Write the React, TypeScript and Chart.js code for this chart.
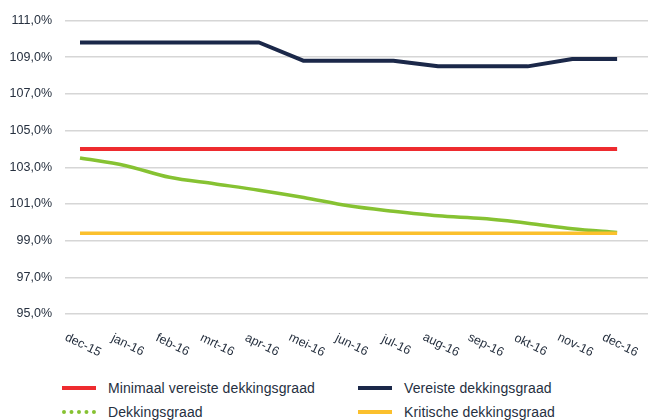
import React, { useEffect, useRef } from "react";
import { Chart, registerables } from "chart.js";

Chart.register(...registerables);

const months = ["dec-15", "jan-16", "feb-16", "mrt-16", "apr-16", "mei-16", "jun-16", "jul-16", "aug-16", "sep-16", "okt-16", "nov-16", "dec-16"];
const minimaalVereiste = [104.0, 104.0, 104.0, 104.0, 104.0, 104.0, 104.0, 104.0, 104.0, 104.0, 104.0, 104.0, 104.0];
const vereiste = [109.8, 109.8, 109.8, 109.8, 109.8, 108.8, 108.8, 108.8, 108.5, 108.5, 108.5, 108.9, 108.9];
const dekkingsgraad = [103.5, 103.1, 102.45, 102.1, 101.75, 101.35, 100.9, 100.6, 100.35, 100.2, 99.95, 99.65, 99.45];
const kritische = [99.4, 99.4, 99.4, 99.4, 99.4, 99.4, 99.4, 99.4, 99.4, 99.4, 99.4, 99.4, 99.4];
const yTicks = [95, 97, 99, 101, 103, 105, 107, 109, 111];

const RED = "#ee2b2f";
const NAVY = "#1b2849";
const GREEN = "#86c232";
const YELLOW = "#fbc02d";
const TEXT = "#26303f";
const FONT = "'Liberation Sans', Arial, sans-serif";

const toPoints = (arr: number[]) => arr.map((v, i) => ({ x: i, y: v }));

const xLabelsPlugin = {
  id: "xLabels",
  afterDraw(chart: any) {
    const { ctx, chartArea } = chart;
    const xs = chart.scales.x;
    ctx.save();
    ctx.fillStyle = TEXT;
    ctx.font = `12.5px ${FONT}`;
    ctx.textAlign = "center";
    ctx.textBaseline = "middle";
    months.forEach((m, i) => {
      const x = xs.getPixelForValue(i);
      const y = chartArea.bottom + 31;
      ctx.save();
      ctx.translate(x + 3, y);
      ctx.rotate((26 * Math.PI) / 180);
      ctx.fillText(m, 0, 0);
      ctx.restore();
    });
    ctx.restore();
  },
};

function LegendItem({ color, label, dashed }: { color: string; label: string; dashed?: boolean }) {
  return (
    <div style={{ display: "flex", alignItems: "center", height: 24 }}>
      <div
        style={{
          width: 34,
          height: 0,
          borderTop: dashed ? `4px dotted ${color}` : `4px solid ${color}`,
          marginRight: 12,
        }}
      />
      <span style={{ fontFamily: FONT, fontSize: 14, letterSpacing: 0.1, color: TEXT }}>{label}</span>
    </div>
  );
}

export default function App() {
  const canvasRef = useRef<HTMLCanvasElement>(null);

  useEffect(() => {
    if (!canvasRef.current) return;
    const common = {
      pointRadius: 0,
      pointHoverRadius: 0,
      fill: false,
    };
    const chart = new Chart(canvasRef.current, {
      type: "line",
      data: {
        datasets: [
          { ...common, label: "Kritische dekkingsgraad", data: toPoints(kritische), borderColor: YELLOW, borderWidth: 3.5, tension: 0 },
          { ...common, label: "Minimaal vereiste dekkingsgraad", data: toPoints(minimaalVereiste), borderColor: RED, borderWidth: 4, tension: 0 },
          { ...common, label: "Vereiste dekkingsgraad", data: toPoints(vereiste), borderColor: NAVY, borderWidth: 4, tension: 0, borderJoinStyle: "round" as const },
          { ...common, label: "Dekkingsgraad", data: toPoints(dekkingsgraad), borderColor: GREEN, borderWidth: 3.5, cubicInterpolationMode: "monotone" as const },
        ],
      },
      options: {
        animation: false,
        responsive: false,
        maintainAspectRatio: false,
        layout: { padding: { top: 12, right: 2, left: 0, bottom: 0 } },
        plugins: { legend: { display: false }, tooltip: { enabled: false } },
        scales: {
          x: {
            type: "linear",
            min: -0.335,
            max: 12.69,
            grid: { display: false },
            border: { display: false },
            ticks: { display: false },
            afterFit: (scale: any) => {
              scale.height = 56;
            },
          },
          y: {
            min: 95,
            max: 111,
            afterBuildTicks: (scale: any) => {
              scale.ticks = yTicks.map((v) => ({ value: v }));
            },
            grid: { color: "#d6d6d6", lineWidth: 1.5, drawTicks: false },
            border: { display: false },
            ticks: {
              padding: 13,
              color: TEXT,
              font: { family: FONT, size: 12.5 },
              callback: (v: any) => Number(v).toFixed(1).replace(".", ",") + "%",
            },
            afterFit: (scale: any) => {
              scale.width = 65;
            },
          },
        },
      },
      plugins: [xLabelsPlugin],
    });
    return () => chart.destroy();
  }, []);

  return (
    <div style={{ position: "absolute", left: 0, top: 0, width: 650, height: 420, background: "#fff" }}>
      <canvas ref={canvasRef} width={650} height={370} style={{ position: "absolute", left: 0, top: 0 }} />
      <div style={{ position: "absolute", left: 62, top: 376 }}>
        <LegendItem color={RED} label="Minimaal vereiste dekkingsgraad" />
        <LegendItem color={GREEN} label="Dekkingsgraad" dashed />
      </div>
      <div style={{ position: "absolute", left: 358, top: 376 }}>
        <LegendItem color={NAVY} label="Vereiste dekkingsgraad" />
        <LegendItem color={YELLOW} label="Kritische dekkingsgraad" />
      </div>
    </div>
  );
}
